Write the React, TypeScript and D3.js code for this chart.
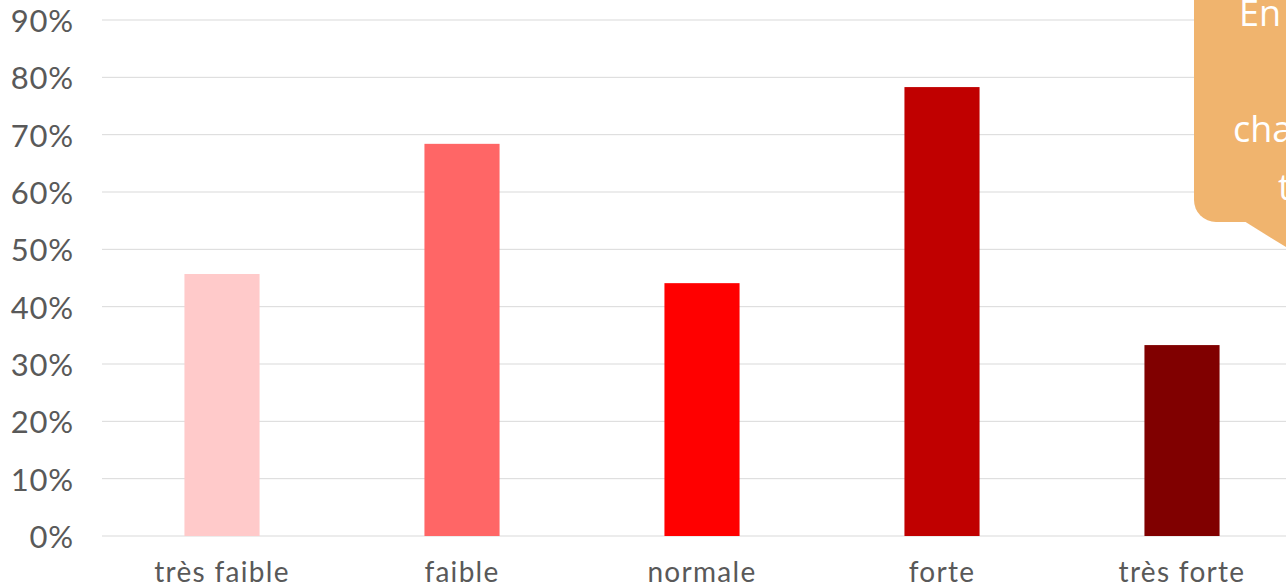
import React from "react";
import * as d3 from "d3";

const categories = ["très faible", "faible", "normale", "forte", "très forte"];
const values = [0.457, 0.684, 0.441, 0.783, 0.333];
const barColors = ["#FFCACA", "#FF6666", "#FF0000", "#C00000", "#800000"];
const yTicks = [0, 0.1, 0.2, 0.3, 0.4, 0.5, 0.6, 0.7, 0.8, 0.9];
const calloutLines = ["En moyenne", "", "changement", "très"];

const W = 1286;
const H = 587;

export default function App() {
  const x = d3
    .scaleBand<string>()
    .domain(categories)
    .range([102, 1302])
    .paddingInner(0.687)
    .paddingOuter(0.3435);
  const y = d3.scaleLinear().domain([0, 0.9]).range([536, 20]);
  const fmt = d3.format(".0%");
  const font = "Lato, 'DejaVu Sans', sans-serif";

  return (
    <div style={{ position: "fixed", left: 0, top: 0 }}>
      <svg width={W} height={H} style={{ display: "block", background: "#fff" }}>
        {yTicks.map((t) => (
          <g key={t}>
            <line x1={102} x2={W} y1={y(t)} y2={y(t)} stroke="#D9D9D9" strokeWidth={1} />
            <text
              x={74}
              y={y(t)}
              textAnchor="end"
              dominantBaseline="central"
              fontFamily={font}
              fontSize={31}
              letterSpacing={0.8}
              fill="#595959"
            >
              {fmt(t)}
            </text>
          </g>
        ))}
        {categories.map((c, i) => (
          <rect
            key={c}
            x={x(c)}
            y={y(values[i])}
            width={x.bandwidth()}
            height={y(0) - y(values[i])}
            fill={barColors[i]}
          />
        ))}
        {categories.map((c) => (
          <text
            key={c}
            x={(x(c) as number) + x.bandwidth() / 2}
            y={582}
            textAnchor="middle"
            fontFamily={font}
            fontSize={28}
            letterSpacing={1.3}
            fill="#595959"
          >
            {c}
          </text>
        ))}
        <g>
          <rect x={1194} y={-30} width={150} height={252} rx={22} fill="#F0B46E" />
          <polygon points="1244,221 1310,262 1310,221" fill="#F0B46E" />
          {calloutLines.map((l, i) => (
            <text
              key={i}
              x={i === 0 ? 1239 : i === 2 ? 1233 : 1278}
              y={26 + i * 58}
              fontFamily="'Open Sans', sans-serif"
              fontSize={36}
              fill="#FFFFFF"
            >
              {l}
            </text>
          ))}
        </g>
      </svg>
    </div>
  );
}
